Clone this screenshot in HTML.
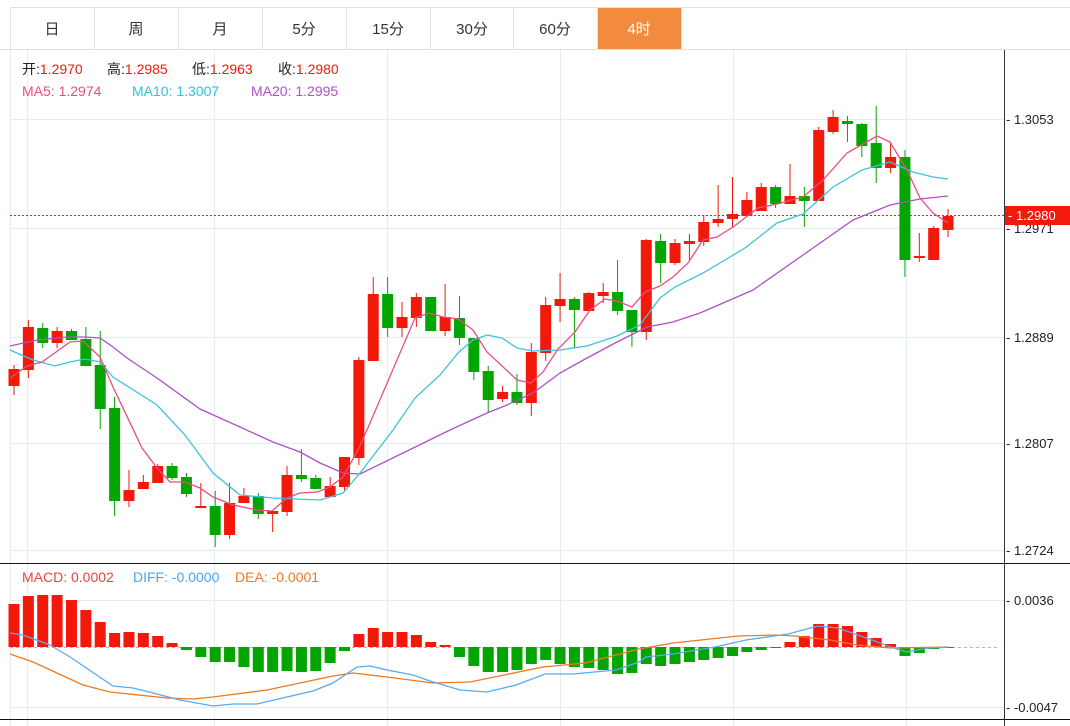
<!DOCTYPE html>
<html><head><meta charset="utf-8"><style>
body{margin:0;background:#fff;width:1070px;height:726px;overflow:hidden;font-family:"Liberation Sans","Noto Sans CJK SC",sans-serif;}
svg{position:absolute;left:0;top:0}
</style></head><body>
<svg width="1070" height="726" xmlns="http://www.w3.org/2000/svg" font-family="Liberation Sans, Noto Sans CJK SC, sans-serif">
<rect x="0" y="0" width="1070" height="726" fill="#fff"/>
<line x1="10" y1="7.5" x2="1070" y2="7.5" stroke="#dde2e6"/>
<line x1="0" y1="49.5" x2="1070" y2="49.5" stroke="#dde2e6"/>
<g stroke="#dde2e6"><line x1="10.5" y1="7" x2="10.5" y2="49"/><line x1="94.5" y1="7" x2="94.5" y2="49"/><line x1="178.5" y1="7" x2="178.5" y2="49"/><line x1="262.5" y1="7" x2="262.5" y2="49"/><line x1="346.5" y1="7" x2="346.5" y2="49"/><line x1="430.5" y1="7" x2="430.5" y2="49"/><line x1="513.5" y1="7" x2="513.5" y2="49"/><line x1="597.5" y1="7" x2="597.5" y2="49"/><line x1="681.5" y1="7" x2="681.5" y2="49"/></g>
<rect x="598" y="8" width="83" height="41" fill="#f28b3d"/>
<g font-size="15" fill="#333" text-anchor="middle"><text x="52" y="34">日</text><text x="136" y="34">周</text><text x="220" y="34">月</text><text x="304" y="34">5分</text><text x="388" y="34">15分</text><text x="472" y="34">30分</text><text x="555" y="34">60分</text><text x="639" y="34" fill="#fff">4时</text></g>
<g stroke="#e5edf3"><line x1="10" y1="119.5" x2="1004" y2="119.5"/><line x1="10" y1="228.5" x2="1004" y2="228.5"/><line x1="10" y1="337.5" x2="1004" y2="337.5"/><line x1="10" y1="443.5" x2="1004" y2="443.5"/><line x1="10" y1="550.5" x2="1004" y2="550.5"/><line x1="10" y1="600.5" x2="1004" y2="600.5"/><line x1="10" y1="707.5" x2="1004" y2="707.5"/>
<line x1="27.5" y1="50" x2="27.5" y2="726"/><line x1="214.5" y1="50" x2="214.5" y2="726"/><line x1="387.5" y1="50" x2="387.5" y2="726"/><line x1="560.5" y1="50" x2="560.5" y2="726"/><line x1="733.5" y1="50" x2="733.5" y2="726"/><line x1="906.5" y1="50" x2="906.5" y2="726"/><line x1="10.5" y1="50" x2="10.5" y2="726"/></g>
<line x1="0" y1="563.5" x2="1070" y2="563.5" stroke="#111"/>
<line x1="0" y1="719.5" x2="1070" y2="719.5" stroke="#111"/>
<line x1="1004.5" y1="50" x2="1004.5" y2="726" stroke="#333"/>
<g font-size="13" fill="#222"><text x="1006" y="124">- 1.3053</text><text x="1006" y="233">- 1.2971</text><text x="1006" y="342">- 1.2889</text><text x="1006" y="448">- 1.2807</text><text x="1006" y="555">- 1.2724</text><text x="1006" y="605">- 0.0036</text><text x="1006" y="712">- -0.0047</text></g>
<line x1="10" y1="215.5" x2="1004" y2="215.5" stroke="#e02020" stroke-dasharray="2,2"/>
<rect x="1005" y="206" width="65" height="19" fill="#f21a0a"/>
<text x="1008" y="220" font-size="13" fill="#fff">- 1.2980</text>
<line x1="10" y1="647.5" x2="1000" y2="647.5" stroke="#7cc8e8" stroke-dasharray="3,3"/>
<g id="c"></g>
<polyline fill="none" stroke="#b050c8" stroke-width="1.3" points="10,346 37,340 67,337 85,337 100,338 113,347 127,358 157,378 200,409 240,427 273,442 300,452 320,463 343,473 360,474 450,430 487,413 507,405 533,393 560,373 587,358 617,342 647,327 673,322 700,313 753,290 803,255 853,220 890,205 920,199 948,196"/>
<polyline fill="none" stroke="#3cc4dc" stroke-width="1.3" points="10,350 33,360 55,366 70,362 85,359 100,362 113,377 157,405 185,435 213,473 240,495 273,498 320,500 343,493 360,473 393,430 415,398 440,375 458,353 473,340 487,335 502,338 517,348 533,351 560,350 587,346 617,336 640,325 660,298 675,287 703,273 730,257 745,248 777,223 803,214 833,187 862,170 890,162 913,172 933,177 948,179"/>
<polyline fill="none" stroke="#ec4d80" stroke-width="1.3" points="10,378 27,366 42,362 70,342 83,341 100,357 113,387 142,448 157,468 170,482 185,482 200,488 213,497 233,505 257,510 272,511 287,498 300,493 317,492 330,487 343,477 358,450 367,430 415,318 429,313 443,317 458,319 473,330 487,352 517,380 531,383 543,372 558,349 575,332 590,310 605,299 617,301 632,307 645,292 660,286 673,277 688,263 703,240 717,237 733,227 758,208 777,204 803,197 823,180 847,153 877,136 890,142 907,170 920,198 933,213 948,223"/>
<g id="m"></g>
<polyline fill="none" stroke="#f07820" stroke-width="1.3" points="10,654 33,662 83,685 110,692 167,698 193,699 213,697 267,690 333,676 353,673 387,677 433,683 470,682 543,667 585,663 639,649 673,643 738,636 776,635 795,636 830,640 857,645 891,648 948,647"/>
<polyline fill="none" stroke="#5aaaf0" stroke-width="1.3" points="10,633 23,635 50,645 70,657 113,686 133,688 153,693 180,700 213,706 233,704 257,704 287,697 313,691 333,683 357,667 370,666 387,670 413,675 430,681 460,690 487,692 516,685 545,674 573,674 616,670 639,662 646,657 673,654 715,647 746,640 788,634 818,626 838,628 872,640 891,647 906,652 929,648 948,647"/>
<g font-size="14">
<text x="22" y="74" fill="#222">开:<tspan fill="#f21a0a">1.2970</tspan></text>
<text x="107" y="74" fill="#222">高:<tspan fill="#f21a0a">1.2985</tspan></text>
<text x="192" y="74" fill="#222">低:<tspan fill="#f21a0a">1.2963</tspan></text>
<text x="278" y="74" fill="#222">收:<tspan fill="#f21a0a">1.2980</tspan></text>
<text x="22" y="96" fill="#ec4d80">MA5: 1.2974</text>
<text x="132" y="96" fill="#2ec3d8">MA10: 1.3007</text>
<text x="251" y="96" fill="#b050c8">MA20: 1.2995</text>
<text x="22" y="582" fill="#f04040">MACD: 0.0002</text>
<text x="133" y="582" fill="#4aa6f0">DIFF: -0.0000</text>
<text x="235" y="582" fill="#f07820">DEA: -0.0001</text></g>
</svg>
<script>
(function(){
var d=[["r",369,386,365,395],["r",327,370,320,378],["g",328,343,323,348],["r",331,343,327,348],["g",331,340,329,340],["g",339,366,327,366],["g",365,409,331,429],["g",408,501,397,516],["r",490,501,470,507],["r",482,489,475,489],["r",466,483,464,483],["g",466,478,463,480],["g",477,494,473,497],["r",506,508,483,508],["g",506,535,491,547],["r",503,535,483,539],["r",496,503,488,503],["g",496,514,493,519],["r",511,514,511,532],["r",475,512,466,516],["g",475,479,449,482],["g",478,489,475,489],["r",486,497,477,497],["r",457,487,457,490],["r",360,458,357,465],["r",294,361,277,361],["g",294,328,277,337],["r",317,328,302,337],["r",297,318,293,327],["g",297,331,297,331],["r",317,331,284,336],["g",318,338,296,345],["g",338,372,338,380],["g",371,400,366,412],["r",392,399,386,402],["g",392,403,374,405],["r",352,403,343,416],["r",305,353,297,361],["r",299,306,273,322],["g",299,310,297,348],["r",293,311,292,311],["r",292,296,283,303],["g",292,311,260,315],["g",310,332,310,347],["r",240,332,239,340],["g",241,263,234,283],["r",243,263,239,265],["r",241,244,234,260],["r",222,242,215,246],["r",219,223,185,227],["r",214,219,177,227],["r",200,216,192,216],["r",187,211,183,211],["g",187,204,185,208],["r",196,204,164,204],["g",196,201,187,227],["r",130,201,127,201],["r",117,132,110,134],["g",121,124,116,142],["g",124,146,123,157],["g",143,168,106,183],["r",157,168,143,173],["g",157,260,150,277],["r",256,258,233,262],["r",228,260,226,260],["r",216,230,209,237]];
var mz=[604,596,595,595,600,610,622,633,632,633,636,643,650,657,662,662,667,672,672,671,672,671,663,651,634,628,632,632,635,642,645];
var z5=[318,336,336,330,310,300,310,320,323,330,340,338,310,317,310,305,298,293,287,275,268,262,245,227,192,190,198,215,233,252,287,278,265,260];
mz.push(657,666);
for(var i=1;i<z5.length;i++)mz.push(Math.round(647+(z5[i]-260)/3));
var s="",m="";
for(i=0;i<d.length;i++){var x=14+i*14.37,c=d[i][0]=="r"?"#f2180a":"#03a503";
var h=Math.max(d[i][2]-d[i][1],2);
s+='<rect x="'+(x-0.5)+'" y="'+d[i][3]+'" width="1" height="'+(d[i][4]-d[i][3])+'" fill="'+c+'"/>';
s+='<rect x="'+(x-5.5)+'" y="'+d[i][1]+'" width="11" height="'+h+'" fill="'+c+'"/>';
var v=mz[i];if(v===undefined)continue;var tp=Math.min(v,647),hh=Math.abs(v-647);if(hh<1)hh=1;
m+='<rect x="'+(x-5.5)+'" y="'+tp+'" width="11" height="'+hh+'" fill="'+(v<647||i==30?"#f2180a":"#03a503")+'"/>';}
document.getElementById("c").innerHTML=s;document.getElementById("m").innerHTML=m;
})();
</script>
</body></html>
